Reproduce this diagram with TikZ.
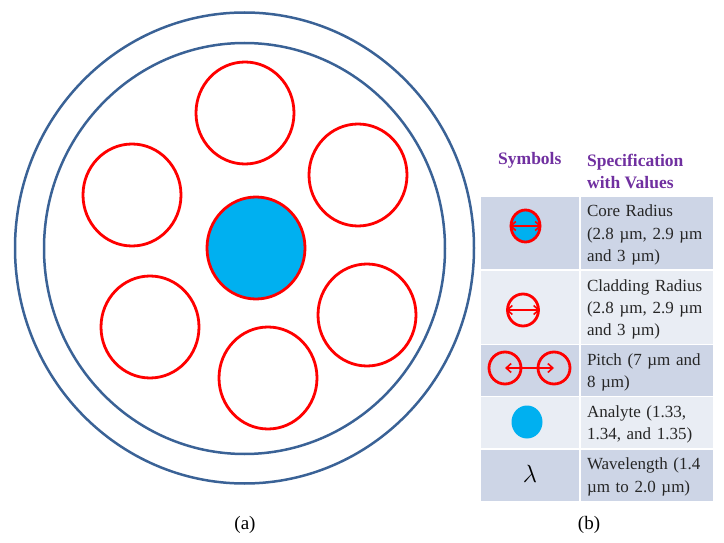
\documentclass[tikz,border=0pt]{standalone}
\usepackage{fontspec}
\setmainfont{Liberation Serif}
\usetikzlibrary{shapes.geometric,arrows.meta}

\begin{document}
\begin{tikzpicture}[x=1pt,y=-1pt]
    \tikzstyle{ring}=[ellipse,draw=ringblue,line width=2.5pt,inner sep=0pt]
    \tikzstyle{hole}=[ellipse,draw=red,line width=2.8pt,inner sep=0pt,minimum width=98pt,minimum height=102pt]
    \tikzstyle{symb}=[ellipse,draw=red,line width=2.8pt,inner sep=0pt]
    \tikzstyle{head}=[anchor=west,inner sep=0pt,text=headpurple,font=\fontsize{17.5}{22}\selectfont\bfseries,align=left]
    \tikzstyle{spec}=[anchor=west,inner sep=0pt,xshift=6pt,yshift=-2pt,text width=122pt,font=\fontsize{17}{22.3}\selectfont,align=left,text=black!85]
    \tikzstyle{cell}=[rectangle,inner sep=0pt,minimum width=98pt]
    \tikzstyle{wide}=[rectangle,inner sep=0pt,minimum width=132pt]
    \tikzstyle{measure}=[red,line width=1.6pt,{Straight Barb[length=5pt,width=9pt]}-{Straight Barb[length=5pt,width=9pt]}]
    \definecolor{ringblue}{HTML}{3A6296}
    \definecolor{headpurple}{HTML}{7030A0}
    \definecolor{rowdark}{HTML}{CDD5E6}
    \definecolor{rowlight}{HTML}{E9EDF4}
    \definecolor{analyte}{HTML}{00B0F0}
    \useasboundingbox (0,0) rectangle (724,543);
    % fibre cross section
    \node[ring,minimum width=459pt,minimum height=471pt] (outer) at (244.5,248) {};
    \node[ring,minimum width=401pt,minimum height=411pt] (inner) at (244.5,248.5) {};
    \node[hole,fill=analyte] (core) at (256,248) {};
    \foreach \name/\px/\py in {top/245/113,right/358/175,left/132/195,lowleft/150/327,lowright/367/315,bottom/268/378}
        \node[hole] (\name) at (\px,\py) {};
    \node (capa) at (245,525) {\fontsize{19}{22}\selectfont (a)};
    % table
    \node[head] (symhead) at (498,160) {Symbols};
    \node[head] (spechead) at (587,171) {Specification\\with Values};
    \node[cell,fill=rowdark,minimum height=72pt] (row1) at (530,233) {};
    \node[cell,fill=rowlight,minimum height=73pt] (row2) at (530,307.5) {};
    \node[cell,fill=rowdark,minimum height=51pt] (row3) at (530,370.5) {};
    \node[cell,fill=rowlight,minimum height=51pt] (row4) at (530,422.5) {};
    \node[cell,fill=rowdark,minimum height=51pt] (row5) at (530,475) {};
    \node[wide,fill=rowdark,minimum height=72pt] (back1) at (647,233) {};
    \node[wide,fill=rowlight,minimum height=73pt] (back2) at (647,307.5) {};
    \node[wide,fill=rowdark,minimum height=51pt] (back3) at (647,370.5) {};
    \node[wide,fill=rowlight,minimum height=51pt] (back4) at (647,422.5) {};
    \node[wide,fill=rowdark,minimum height=51pt] (back5) at (647,475) {};
    \node[spec] (spec1) at (back1.west) {Core Radius\\(2.8 µm, 2.9 µm\\and 3 µm)};
    \node[spec] (spec2) at (back2.west) {Cladding Radius\\(2.8 µm, 2.9 µm\\and 3 µm)};
    \node[spec] (spec3) at (back3.west) {Pitch (7 µm and\\8 µm)};
    \node[spec] (spec4) at (back4.west) {Analyte (1.33,\\1.34, and 1.35)};
    \node[spec] (spec5) at (back5.west) {Wavelength (1.4\\µm to 2.0 µm)};
    % symbols
    \node[symb,fill=analyte,minimum width=29pt,minimum height=32pt] (coresym) at (525.5,226) {};
    \draw[measure] (coresym.west) -- (coresym.east);
    \node[symb,minimum width=31pt,minimum height=32pt] (cladsym) at (523,310) {};
    \draw[measure] (cladsym.west) -- (cladsym.east);
    \node[symb,minimum width=32pt,minimum height=32pt] (pitchl) at (505,368) {};
    \node[symb,minimum width=32pt,minimum height=32pt] (pitchr) at (554,368) {};
    \draw[measure] (pitchl.center) -- (pitchr.center);
    \node[ellipse,fill=analyte,inner sep=0pt,minimum width=31pt,minimum height=33pt] (anasym) at (527,422) {};
    \node (lamsym) at (530,474) {\fontsize{31}{34}\selectfont $\lambda$};
    \node (capb) at (589,525) {\fontsize{19}{22}\selectfont (b)};
\end{tikzpicture}
\end{document}
